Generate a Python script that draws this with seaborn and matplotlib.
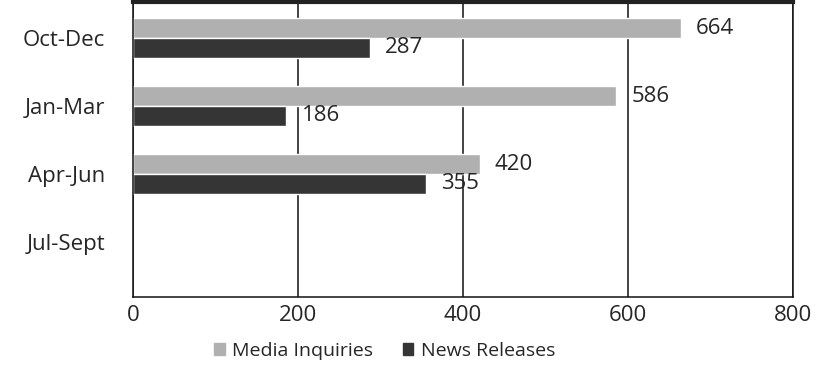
import numpy as np
import pandas as pd
import seaborn as sns
from matplotlib import pyplot as plt

quarters = ["Oct-Dec", "Jan-Mar", "Apr-Jun", "Jul-Sept"]
media_inquiries = [664, 586, 420, np.nan]
news_releases = [287, 186, 355, np.nan]
series_names = ["Media Inquiries", "News Releases"]
x_ticks = [0, 200, 400, 600, 800]
colors = ["#b0b0b0", "#353535"]

df = pd.DataFrame({
    "Quarter": quarters * 2,
    "Count": media_inquiries + news_releases,
    "Series": [series_names[0]] * 4 + [series_names[1]] * 4,
})

sns.set_style("white")
plt.rcParams["font.family"] = ["Open Sans", "DejaVu Sans"]

f = plt.figure(figsize=(8.22, 3.65), dpi=100)
ax = f.add_axes([133 / 822, 1 - 297 / 365, 660 / 822, 295 / 365])

ax = sns.barplot(data=df, y="Quarter", x="Count", hue="Series", order=quarters,
                 hue_order=series_names, palette=colors,
                 orient="h", width=0.58, gap=0, legend=False, ax=ax)

for c in ax.containers:
    labels = ["" if np.isnan(v) else f"{v:.0f}" for v in c.datavalues]
    ax.bar_label(c, labels=labels, padding=11, fontsize=16)

ax.set_xlim(0, 800)
ax.set_xticks(x_ticks)
ax.set_ylim(3.81, -0.53)
ax.grid(axis="x", color="#111111", linewidth=1.1)
ax.set_axisbelow(True)
ax.set_xlabel("")
ax.set_ylabel("")
ax.tick_params(axis="both", length=0)
ax.tick_params(axis="x", pad=6, labelsize=16)
ax.tick_params(axis="y", pad=20, labelsize=16)

for side in ["left", "bottom", "right"]:
    ax.spines[side].set_visible(True)
    ax.spines[side].set_color("#111111")
    ax.spines[side].set_linewidth(1.1)
ax.spines["top"].set_visible(True)
ax.spines["top"].set_color("#222222")
ax.spines["top"].set_linewidth(3)

handles = [plt.Rectangle((0, 0), 1, 1, color=col) for col in colors]
f.legend(handles, series_names, loc="center", bbox_to_anchor=(0.468, 0.038), ncol=2,
         frameon=False, fontsize=14, handlelength=0.55, handleheight=0.55,
         handletextpad=0.4, columnspacing=1.5)

f.savefig("out.png", dpi=100)
